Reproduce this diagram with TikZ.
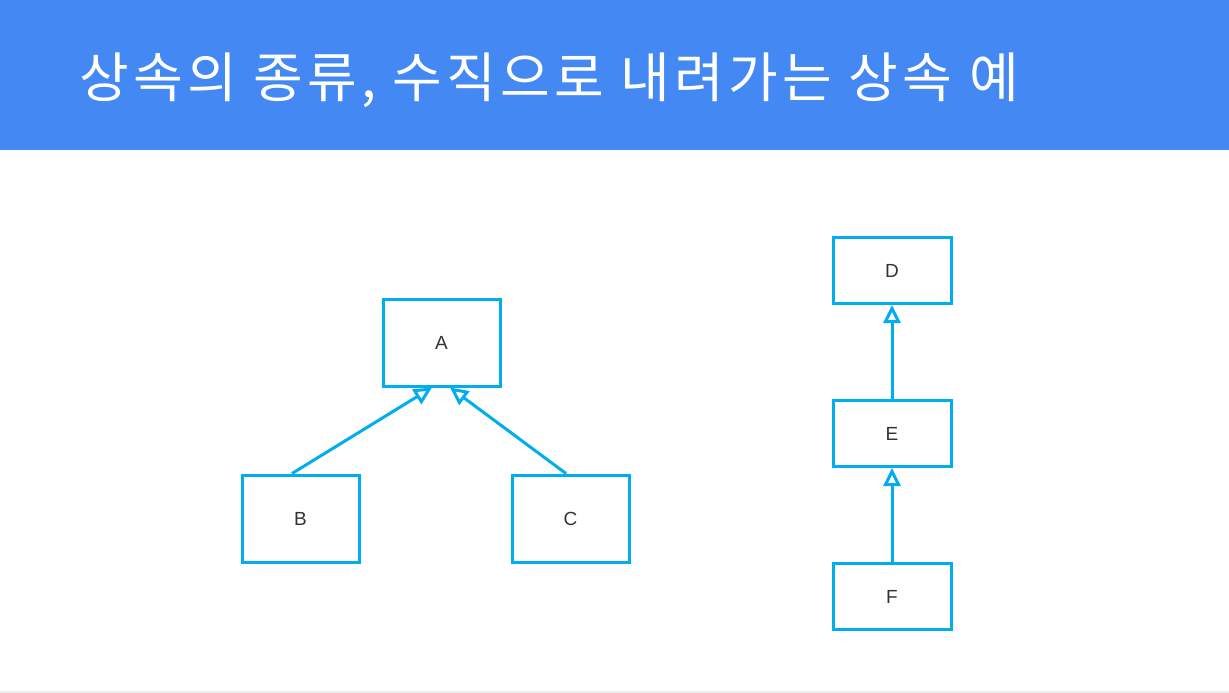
\documentclass[tikz,border=0pt]{standalone}
\usepackage{fontspec}
\setmainfont{Liberation Sans}
\newfontfamily\krfont[LetterSpace=8]{Noto Sans CJK KR}
\usetikzlibrary{arrows.meta}
\definecolor{barblue}{RGB}{68,136,244}
\definecolor{clsblue}{RGB}{0,174,239}
\definecolor{txtgray}{RGB}{51,51,51}
\tikzset{
  cls/.style={draw=clsblue, line width=3pt, minimum width=117pt, minimum height=87pt,
    inner sep=0pt, text=txtgray, font=\fontsize{19}{23}\selectfont},
  clsflat/.style={cls, minimum width=118pt, minimum height=66pt},
  inherit/.style={draw=clsblue, line width=3pt, -{Triangle[open, length=18pt, width=17pt, line width=3pt]}},
}
\begin{document}
\begin{tikzpicture}[x=1pt,y=-1pt]
\useasboundingbox (0,0) rectangle (1229,693);

%Title bar
\fill[barblue] (0,0) rectangle (1229,150);
\node[anchor=base west, inner sep=0pt, text=white, font=\krfont\fontsize{54}{62}\selectfont] (title) at (79,97) {상속의 종류, 수직으로 내려가는 상속 예};
\draw[black!7, line width=2pt] (0,691.5) -- (1229,691.5);

%Left tree
\node[cls] (A) at (441.5,342.5) {A};
\node[cls] (B) at (300.5,518.5) {B};
\node[cls] (C) at (570.5,518.5) {C};
\draw[inherit] ([xshift=-8.5pt]B.north) -- ([xshift=-9.5pt]A.south);
\draw[inherit] ([xshift=-4.5pt]C.north) -- ([xshift=8.5pt]A.south);

%Right chain
\node[clsflat] (D) at (892,270.5) {D};
\node[clsflat] (E) at (892,433.5) {E};
\node[clsflat] (F) at (892,596.5) {F};
\draw[inherit] (E.north) -- (D.south);
\draw[inherit] (F.north) -- (E.south);

\end{tikzpicture}
\end{document}
